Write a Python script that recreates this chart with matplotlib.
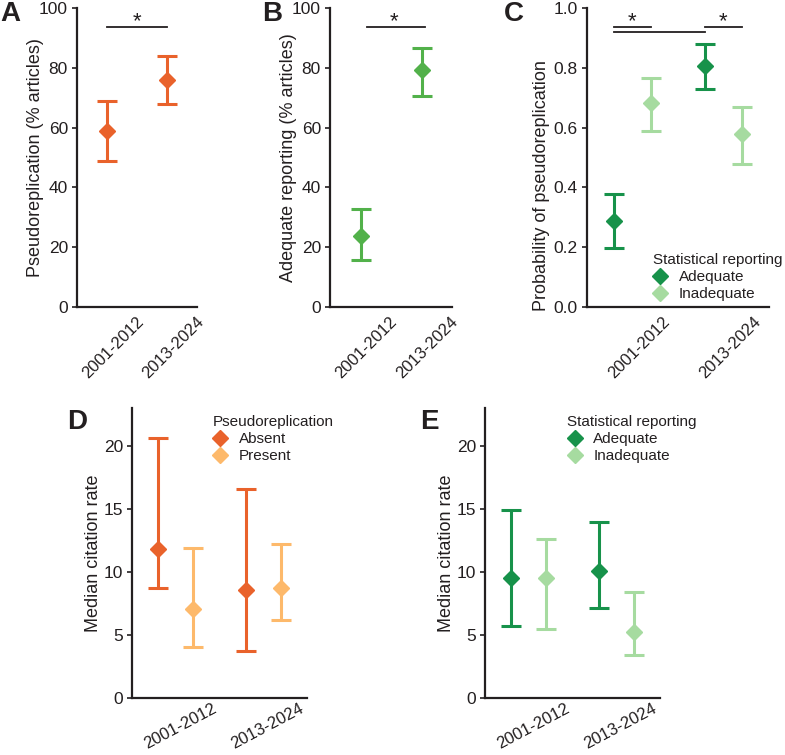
import matplotlib
matplotlib.use("Agg")
import matplotlib.pyplot as plt
from matplotlib.lines import Line2D
from matplotlib.transforms import ScaledTranslation

plt.rcParams['font.family'] = ['Liberation Sans', 'DejaVu Sans']

# ---------------- data ----------------
periods = ["2001-2012", "2013-2024"]

# Panel A: pseudoreplication (% articles)
pseudo_pct = [58.8, 75.8]
pseudo_lo = [48.7, 67.8]
pseudo_hi = [68.9, 83.8]

# Panel B: adequate reporting (% articles)
adequate_pct = [23.7, 79.2]
adequate_lo = [15.7, 70.7]
adequate_hi = [32.7, 86.6]

# Panel C: probability of pseudoreplication by statistical reporting
reporting_groups = ["Adequate", "Inadequate"]
probC = {"Adequate": [0.289, 0.805], "Inadequate": [0.682, 0.580]}
probC_lo = {"Adequate": [0.197, 0.728], "Inadequate": [0.589, 0.478]}
probC_hi = {"Adequate": [0.379, 0.880], "Inadequate": [0.767, 0.668]}

# Panel D: median citation rate by pseudoreplication
pseudo_groups = ["Absent", "Present"]
citeD = {"Absent": [11.8, 8.56], "Present": [7.07, 8.72]}
citeD_lo = {"Absent": [8.69, 3.71], "Present": [4.05, 6.15]}
citeD_hi = {"Absent": [20.66, 16.56], "Present": [11.89, 12.21]}

# Panel E: median citation rate by statistical reporting
citeE = {"Adequate": [9.54, 10.07], "Inadequate": [9.54, 5.22]}
citeE_lo = {"Adequate": [5.72, 7.10], "Inadequate": [5.48, 3.44]}
citeE_hi = {"Adequate": [14.91, 13.96], "Inadequate": [12.58, 8.40]}

# ---------------- style ----------------
INK = '#231F20'
ORANGE_D = '#E9622B'
ORANGE_L = '#FDB96B'
GREEN_B = '#52B14A'
GREEN_D = '#17924A'
GREEN_L = '#A6DBA0'

W, H = 785, 755
fig = plt.figure(figsize=(W / 100, H / 100), dpi=100)


def add_ax(l, t, r, b):
    ax = fig.add_axes([l / W, (H - b) / H, (r - l) / W, (b - t) / H])
    ax._px = (l, t, r, b)
    return ax


def style(ax, ylim, yticks, ylabel, yfmt, rot, xoff, yoff, ylab_x, ylab_y=None):
    l, t, r, b = ax._px
    ax.set_xlim(0.5, 2.5)
    ax.set_ylim(*ylim)
    for s in ['top', 'right']:
        ax.spines[s].set_visible(False)
    for s in ['left', 'bottom']:
        ax.spines[s].set_linewidth(1.6)
        ax.spines[s].set_color(INK)
    ax.set_yticks(yticks)
    ax.set_yticklabels([yfmt(v) for v in yticks])
    ax.tick_params(axis='y', length=3.5, width=1.2, colors=INK, labelsize=12.5, pad=3)
    ax.tick_params(axis='x', length=0, labelsize=12, colors=INK)
    ax.set_xticks([1, 2])
    ax.set_xticklabels(periods, rotation=rot, ha='right', va='top', rotation_mode='anchor')
    off = ScaledTranslation(xoff / 100, yoff / 100, fig.dpi_scale_trans)
    for lab in ax.get_xticklabels():
        lab.set_transform(lab.get_transform() + off)
    ax.set_ylabel(ylabel, fontsize=13, color=INK)
    yc = 0.5 if ylab_y is None else (b - ylab_y) / (b - t)
    ax.yaxis.set_label_coords(ylab_x / (r - l), yc)
    ax.patch.set_alpha(0)


def errpt(ax, x, y, lo, hi, color):
    ax.errorbar(x, y, yerr=[[y - lo], [hi - y]], fmt='D', color=color, ms=8.5,
                mec=color, elinewidth=2.2, capsize=7, capthick=2.2, clip_on=False, zorder=3)


def sig(ax, x0, x1, y, star=None, ys=None):
    ax.plot([x0, x1], [y, y], color=INK, lw=1.3, clip_on=False)
    if star is not None:
        ax.text(star, ys, '*', ha='center', va='center', fontsize=16, color=INK)


pct_fmt = lambda v: f"{v:.0f}"

# Panel A
axA = add_ax(77, 8, 197, 307)
style(axA, (0, 100), [0, 20, 40, 60, 80, 100], "Pseudoreplication (% articles)", pct_fmt,
      45, 29, -2, -33)
for i in range(2):
    errpt(axA, i + 1, pseudo_pct[i], pseudo_lo[i], pseudo_hi[i], ORANGE_D)
sig(axA, 1.0, 2.0, 93.6, 1.5, 95.5)

# Panel B
axB = add_ax(330, 8, 452, 307)
style(axB, (0, 100), [0, 20, 40, 60, 80, 100], "Adequate reporting (% articles)", pct_fmt,
      45, 29, -2, -33)
for i in range(2):
    errpt(axB, i + 1, adequate_pct[i], adequate_lo[i], adequate_hi[i], GREEN_B)
sig(axB, 1.1, 2.05, 93.6, 1.55, 95.5)

# Panel C
axC = add_ax(587, 8, 769, 307)
style(axC, (0, 1.0), [0, 0.2, 0.4, 0.6, 0.8, 1.0], "Probability of pseudoreplication",
      lambda v: f"{v:.1f}", 45, 30, -2, -37, 186)
colsC = {"Adequate": GREEN_D, "Inadequate": GREEN_L}
dodge = {"Adequate": -0.2, "Inadequate": 0.2, "Absent": -0.2, "Present": 0.2}
for g in reporting_groups:
    for i in range(2):
        errpt(axC, i + 1 + dodge[g], probC[g][i], probC_lo[g][i], probC_hi[g][i], colsC[g])
sig(axC, 0.8, 1.2, 0.936, 1.0, 0.955)
sig(axC, 0.8, 1.8, 0.920)
sig(axC, 1.8, 2.2, 0.936, 2.0, 0.955)


def legend(ax, title, groups, cols, x, y):
    hs = [Line2D([], [], ls='none', marker='D', ms=8.5, color=cols[g]) for g in groups]
    lg = ax.legend(hs, groups, title=title, loc='upper left', bbox_to_anchor=(x, y),
                   frameon=False, fontsize=11, title_fontsize=11, handlelength=1.0,
                   handletextpad=0.7, labelspacing=0.2, borderpad=0, borderaxespad=0)
    lg._legend_box.align = 'left'
    for t in lg.get_texts():
        t.set_color(INK)
    lg.get_title().set_color(INK)


legend(axC, "Statistical reporting", reporting_groups, colsC, 0.36, 0.18)

# Panel D
axD = add_ax(132, 408, 307, 698)
style(axD, (0, 23), [0, 5, 10, 15, 20], "Median citation rate", pct_fmt, 28, 36, 2, -30)
colsD = {"Absent": ORANGE_D, "Present": ORANGE_L}
for g in pseudo_groups:
    for i in range(2):
        errpt(axD, i + 1 + dodge[g], citeD[g][i], citeD_lo[g][i], citeD_hi[g][i], colsD[g])
legend(axD, "Pseudoreplication", pseudo_groups, colsD, 0.46, 0.975)

# Panel E
axE = add_ax(485, 408, 660, 698)
style(axE, (0, 23), [0, 5, 10, 15, 20], "Median citation rate", pct_fmt, 28, 36, 2, -30)
for g in reporting_groups:
    for i in range(2):
        errpt(axE, i + 1 + dodge[g], citeE[g][i], citeE_lo[g][i], citeE_hi[g][i], colsC[g])
legend(axE, "Statistical reporting", reporting_groups, colsC, 0.47, 0.975)

# Panel letters
for lab, x, y in [("A", 0, 1), ("B", 262, 1), ("C", 504, 1), ("D", 67, 409), ("E", 420, 409)]:
    fig.text(x / W, 1 - y / H, lab, fontsize=20, fontweight='bold', color=INK,
             ha='left', va='top')

fig.savefig("out.png", dpi=100)
